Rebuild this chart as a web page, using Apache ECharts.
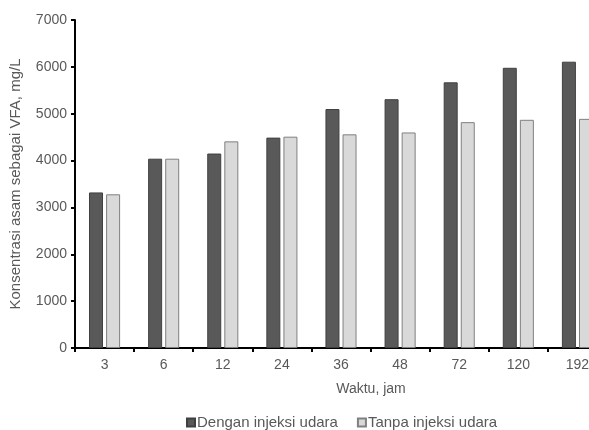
<!DOCTYPE html>
<html><head><meta charset="utf-8">
<script src="https://cdn.jsdelivr.net/npm/echarts@6/dist/echarts.min.js"></script>
<style>html,body{margin:0;padding:0;background:#fff;overflow:hidden;width:589px;height:430px}#c{width:640px;height:430px}</style>
</head><body><div id="c"></div>
<script>
const categories = ['3','6','12','24','36','48','72','120','192'];
const dengan = [3320, 4040, 4150, 4490, 5100, 5310, 5670, 5980, 6110];
const tanpa = [3280, 4040, 4410, 4510, 4560, 4600, 4820, 4870, 4890];
const seriesNames = ['Dengan injeksi udara', 'Tanpa injeksi udara'];
const yTicks = {min: 0, max: 7000, interval: 1000};

const font = 'Liberation Sans, Arial, sans-serif';
const txt = '#595959';
const chart = echarts.init(document.getElementById('c'));
chart.setOption({
  animation: false,
  textStyle: {fontFamily: font},
  grid: {left: 73, top: 20, width: 534, height: 328, containLabel: false},
  legend: {
    top: 410, left: 181, itemWidth: 8, itemHeight: 8, itemGap: 19,
    textStyle: {color: txt, fontSize: 15, fontFamily: font, padding: [0,0,0,-3]},
    data: seriesNames.map(n => ({name: n, icon: 'rect'}))
  },
  xAxis: {
    type: 'category', data: categories,
    name: 'Waktu, jam', nameLocation: 'middle', nameGap: 34,
    nameTextStyle: {color: txt, fontSize: 14, padding: [0,0,0,60]},
    axisLine: {lineStyle: {color: '#000', width: 2}},
    axisTick: {show: true, length: 4, lineStyle: {color: '#000', width: 2}},
    axisLabel: {color: txt, fontSize: 14, margin: 10}
  },
  yAxis: {
    type: 'value', min: yTicks.min, max: yTicks.max, interval: yTicks.interval,
    name: 'Konsentrasi asam sebagai VFA, mg/L', nameLocation: 'middle', nameGap: 52,
    nameTextStyle: {color: txt, fontSize: 15},
    axisLine: {show: true, lineStyle: {color: '#000', width: 2}},
    axisTick: {show: true, length: 4, lineStyle: {color: '#000', width: 2}},
    axisLabel: {color: txt, fontSize: 14, margin: 8, formatter: v => String(v)},
    splitLine: {show: false}
  },
  series: [
    {name: seriesNames[0], type: 'bar', data: dengan, barWidth: 14, barGap: '22%',
     itemStyle: {color: '#595959', borderColor: '#404040', borderWidth: 1}},
    {name: seriesNames[1], type: 'bar', data: tanpa, barWidth: 14,
     itemStyle: {color: '#d9d9d9', borderColor: '#808080', borderWidth: 1}}
  ]
});
</script></body></html>
